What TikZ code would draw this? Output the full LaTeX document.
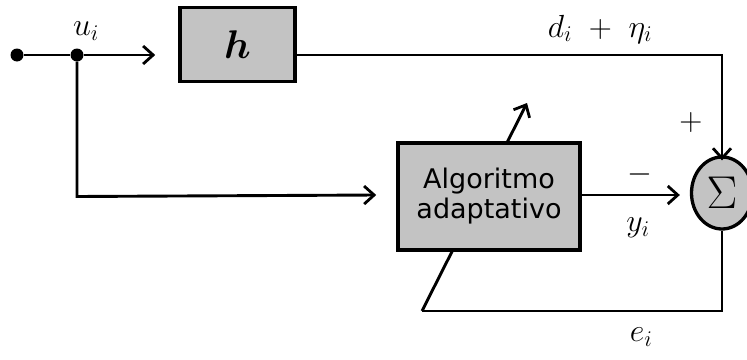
\RequirePackage{fix-cm}
\documentclass[tikz,border=0pt]{standalone}
\usepackage{fontspec}
\usepackage{bm}
\newfontfamily\algfont{DejaVu Sans}
\usetikzlibrary{arrows.meta,shapes.geometric}
\definecolor{blockgray}{RGB}{195,195,195}
\tikzset{
  wire/.style={line width=2.9pt, line join=miter},
  sig/.style={wire, -{Straight Barb[length=10pt,width=18pt,line width=2.8pt]}},
  block/.style={draw, line width=3.6pt, fill=blockgray, inner sep=0pt},
  dotmark/.style={circle, fill=black, inner sep=0pt, minimum size=13pt},
  lbl/.style={inner sep=0pt, font=\fontsize{32}{36}\selectfont},
}
\begin{document}
\begin{tikzpicture}[x=1pt,y=-1pt]
\useasboundingbox (0,0) rectangle (747,359);
\clip (0,0) rectangle (747,359);

% adaptation arrow passes behind the adaptive filter block
\coordinate (tail) at (422,311);
\coordinate (head) at (527,103);
\draw[sig] (tail) -- (head);

% blocks
\node[block, minimum width=115pt, minimum height=74pt] (h) at (237.5,44.5)
  {\fontsize{40}{44}\selectfont$\bm{h}$};
\node[block, minimum width=182pt, minimum height=107pt, align=center,
      font=\algfont\fontsize{27}{30}\selectfont] (alg) at (489,196.5)
  {Algoritmo\\adaptativo};
\node[ellipse, draw, line width=3.3pt, fill=blockgray, minimum width=61pt,
      minimum height=72pt, inner sep=0pt] (sum) at (722,193)
  {\fontsize{46}{50}\selectfont$\Sigma$};

% input and branch point
\node[dotmark] (src) at (17,55) {};
\node[dotmark] (j) at (77,55) {};

% signal paths
\draw[wire] (src) -- (j);
\draw[sig] (j) -- ([xshift=-23pt]h.west |- j);
\draw[sig] (h.east |- j) -- (sum.north |- j) -- ([yshift=-5pt]sum.north);
\draw[sig] (j) -- (j |- alg) -- ([xshift=-20pt]alg.west |- 0,195);
\draw[sig] (alg.east |- 0,195) -- ([xshift=-10pt]sum.west |- 0,195);
\draw[wire] (sum.south) |- (tail);

% labels
\node[lbl] (lu) at (86,31) {$u_i$};
\node[lbl] (ld) at (600,29) {$d_i\ +\ \eta_i$};
\node[lbl] (lplus) at (691,122) {$+$};
\node[lbl] (lminus) at (640,174) {$-$};
\node[lbl] (ly) at (638,228) {$y_i$};
\node[lbl] (le) at (641,337) {$e_i$};
\end{tikzpicture}
\end{document}
